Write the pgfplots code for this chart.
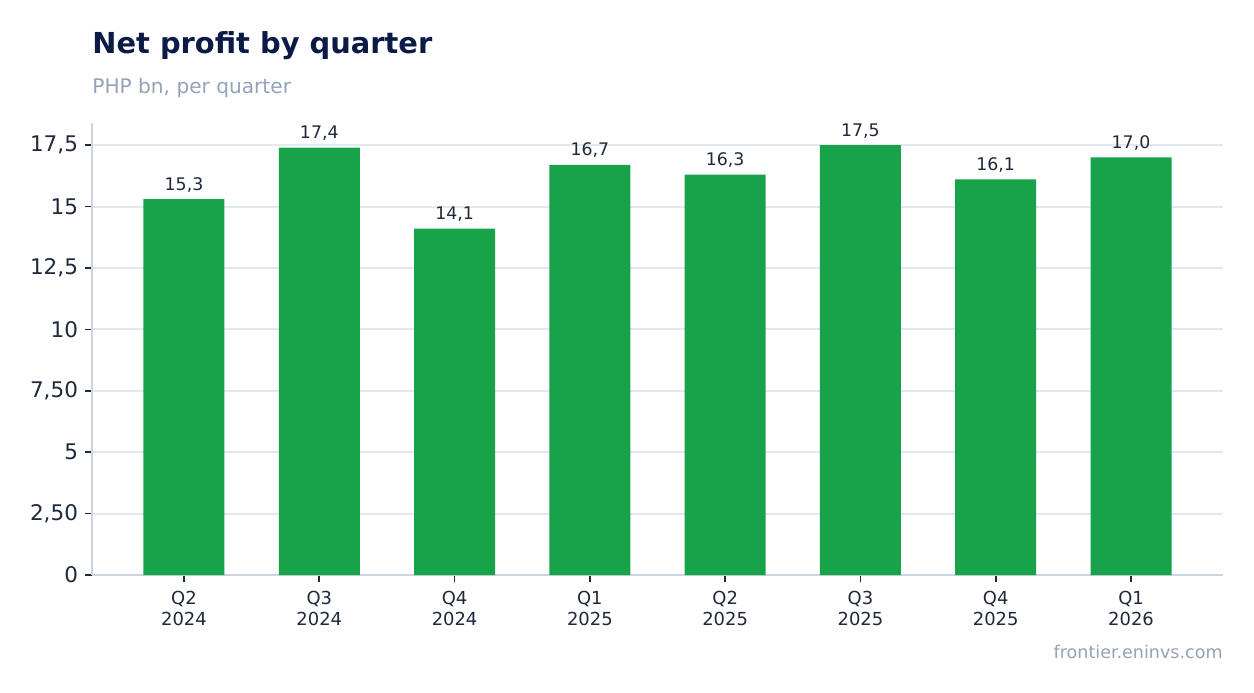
\documentclass[border=0pt]{standalone}
\usepackage{pgfplots}
\pgfplotsset{compat=1.18}
\usepackage{fontspec}
\setmainfont{DejaVu Sans}
\definecolor{bargreen}{HTML}{18A34A}
\definecolor{titlenavy}{HTML}{0B1B45}
\definecolor{subgray}{HTML}{94A3B8}
\definecolor{ticktext}{HTML}{1E293B}
\definecolor{gridgray}{HTML}{E2E8F0}
\definecolor{spinegray}{HTML}{CBD5E1}
\begin{document}
\begin{tikzpicture}
  \path[use as bounding box, fill=white] (0bp,0bp) rectangle (627bp,346.5bp);
  \node[anchor=base west, inner sep=0pt, text=titlenavy, font=\fontsize{14.5}{17}\selectfont\bfseries] at (46bp,319.5bp) {Net profit by quarter};
  \node[anchor=base west, inner sep=0pt, text=subgray, font=\fontsize{10.1}{12}\selectfont] at (46bp,299.5bp) {PHP bn, per quarter};
  \node[anchor=base east, inner sep=0pt, text=subgray, font=\fontsize{8.8}{10}\selectfont] at (611.5bp,17.5bp) {frontier.eninvs.com};
  \begin{axis}[
    at={(46bp,59bp)}, anchor=south west,
    scale only axis, width=565.5bp, height=226bp,
    ybar, bar width=40.5bp,
    xmin=-0.68, xmax=7.68, ymin=0, ymax=18.4,
    xtick={0,...,7},
    xticklabels={{Q2\\2024},{Q3\\2024},{Q4\\2024},{Q1\\2025},{Q2\\2025},{Q3\\2025},{Q4\\2025},{Q1\\2026}},
    xticklabel style={align=center, text=ticktext, font=\fontsize{9}{10.5}\selectfont, yshift=-1bp},
    ytick={0,2.5,5,7.5,10,12.5,15,17.5},
    yticklabels={0,{2,50},5,{7,50},10,{12,5},15,{17,5}},
    yticklabel style={text=ticktext, font=\fontsize{10.8}{12}\selectfont},
    tick align=outside, tick pos=left,
    major tick length=3.5bp,
    tick style={ticktext, line width=0.8pt},
    ymajorgrids, grid style={gridgray, line width=1pt},
    axis x line*=bottom, axis y line*=left,
    axis line style={spinegray, line width=0.8pt},
    x axis line style={-}, y axis line style={-},
    nodes near coords, point meta=explicit symbolic,
    nodes near coords style={text=ticktext, font=\fontsize{8.7}{10}\selectfont},
    clip=false,
  ]
    \addplot[fill=bargreen, draw=none] coordinates {
      (0,15.3) [15,3]
      (1,17.4) [17,4]
      (2,14.1) [14,1]
      (3,16.7) [16,7]
      (4,16.3) [16,3]
      (5,17.5) [17,5]
      (6,16.1) [16,1]
      (7,17.0) [17,0]
    };
  \end{axis}
\end{tikzpicture}
\end{document}
